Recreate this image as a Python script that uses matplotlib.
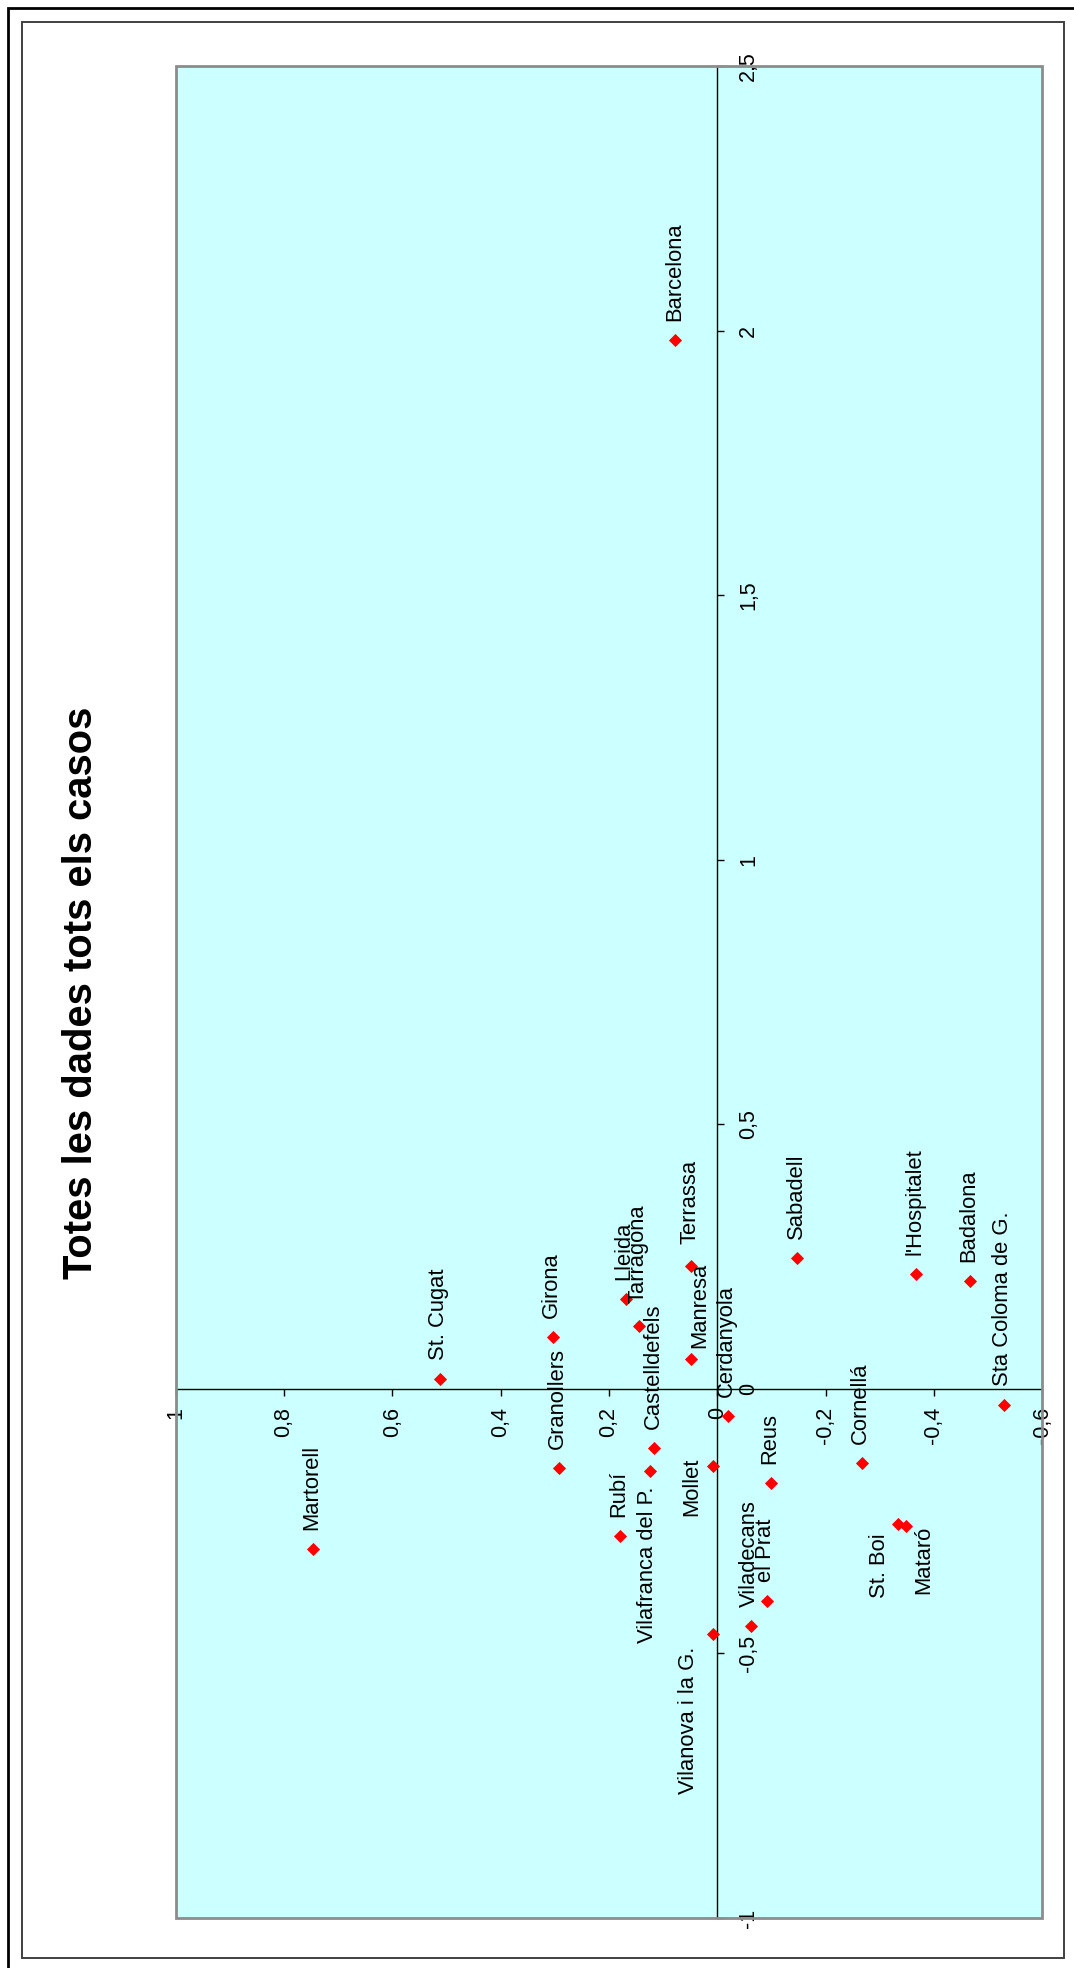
import matplotlib.pyplot as plt
from matplotlib.patches import Rectangle
from matplotlib.ticker import FixedLocator, FuncFormatter

plt.rcParams['font.family'] = ['Liberation Sans', 'DejaVu Sans']

# data: first dimension (-1 .. 2.5) runs up the page, second (-0.6 .. 1) runs right to left
towns = ["Barcelona", "Martorell", "St. Cugat", "Girona", "Granollers", "Lleida",
         "Tarragona", "Castelldefels", "Vilafranca del P.", "Rubí", "Terrassa",
         "Manresa", "Cerdanyola", "Mollet", "Vilanova i la G.", "Reus", "el Prat",
         "Viladecans", "Sabadell", "Cornellá", "St. Boi", "Mataró", "l'Hospitalet",
         "Badalona", "Sta Coloma de G."]
dim1 = [1.983, -0.302, 0.0195, 0.098, -0.150, 0.170,
        0.118, -0.111, -0.156, -0.279, 0.2325,
        0.056, -0.051, -0.146, -0.464, -0.177, -0.401,
        -0.448, 0.248, -0.141, -0.2546, -0.260, 0.217,
        0.204, -0.031]
dim2 = [0.078, 0.746, 0.511, 0.303, 0.292, 0.169,
        0.144, 0.116, 0.124, 0.180, 0.049,
        0.049, -0.019, 0.0085, 0.0085, -0.099, -0.091,
        -0.062, -0.148, -0.267, -0.334, -0.348, -0.367,
        -0.4665, -0.530]

dim1_ticks = [-1, -0.5, 0, 0.5, 1, 1.5, 2, 2.5]
dim2_ticks = [1, 0.8, 0.6, 0.4, 0.2, 0, -0.2, -0.4, -0.6]

title = "Totes les dades tots els casos"

# label placement in pixels from the marker; 'after' = text starts past the point
label_nudge = {
    "Barcelona": (0, 19, "after"),
    "Tarragona": (-1, 23, "after"),
    "Terrassa": (-1, 22, "after"),
    "Manresa": (9, 11, "after"),
    "Vilafranca del P.": (-2.5, -15, "before"),
    "Vilanova i la G.": (-24, -12, "before"),
    "St. Boi": (-19, -10, "before"),
    "Mataró": (17.5, 1, "before"),
    "Mollet": (-21, 8, "before"),
}

W, H = 1074, 1968
fig = plt.figure(figsize=(W / 100, H / 100), dpi=100)

# page borders
fig.patches.append(Rectangle((22 / W, 1 - 1958 / H), (1064 - 22) / W, (1958 - 22) / H,
                             transform=fig.transFigure, fill=False,
                             edgecolor='#404040', lw=1.4))
fig.patches.append(Rectangle((8 / W, -0.02), 1.1, 1 - 8 / H + 0.02,
                             transform=fig.transFigure, fill=False,
                             edgecolor='black', lw=2))

left, right, top, bottom = 175.6, 1042.3, 66, 1918
ax = fig.add_axes([left / W, 1 - bottom / H, (right - left) / W, (bottom - top) / H])
ax.set_facecolor('#CCFFFF')
ax.set_xlim(1, -0.6)
ax.set_ylim(-1, 2.5)

ax.add_patch(Rectangle((0, 0), 1, 1, transform=ax.transAxes, fill=False,
                       edgecolor='#8c8c8c', lw=2, clip_on=False, zorder=4))

ax.spines['top'].set_visible(False)
ax.spines['left'].set_visible(False)
ax.spines['right'].set_position(('data', 0))
ax.spines['bottom'].set_position(('data', 0))
for side in ['right', 'bottom']:
    ax.spines[side].set_linewidth(1.0)
    ax.spines[side].set_color('black')

fmt = FuncFormatter(lambda v, p: f'{v:g}'.replace('.', ','))
ax.yaxis.tick_right()
ax.yaxis.set_major_locator(FixedLocator(dim1_ticks))
ax.xaxis.set_major_locator(FixedLocator(dim2_ticks))
ax.yaxis.set_major_formatter(fmt)
ax.xaxis.set_major_formatter(fmt)
ax.tick_params(axis='y', direction='out', length=5, width=1.0, labelsize=15.5, pad=10, labelrotation=90)
ax.tick_params(axis='x', direction='out', length=5, width=1.0, labelsize=15.5, pad=8, labelrotation=90)
plt.setp(ax.get_yticklabels(), va='center', ha='left')
plt.setp(ax.get_xticklabels(), va='top', ha='center')

ax.scatter(dim2, dim1, marker='D', s=6.7 ** 2, color='red', linewidths=0, zorder=5)

for name, d1, d2 in zip(towns, dim1, dim2):
    dx, dy, side = label_nudge.get(name, (-1.5, 19, "after"))
    ax.annotate(name, (d2, d1), xytext=(dx, dy), textcoords='offset pixels',
                rotation=90, ha='center', va='bottom' if side == "after" else 'top',
                fontsize=15.8, zorder=6)

fig.text(81 / W, 1 - 993 / H, title, rotation=90, ha='center', va='center',
         fontsize=28.8, fontweight='bold')

fig.savefig('out.png', dpi=100)
